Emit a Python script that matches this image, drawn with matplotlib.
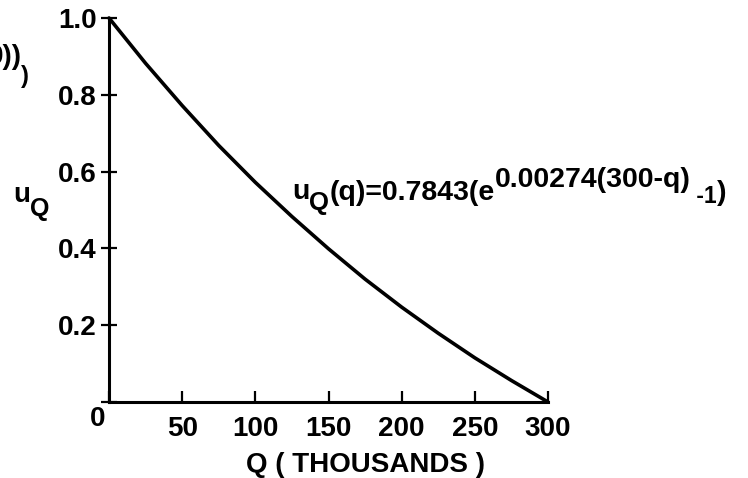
import matplotlib
matplotlib.use("Agg")
import matplotlib.pyplot as plt

# values
q_vals = [0, 25, 50, 75, 100, 125, 150, 175, 200, 225, 250, 275, 300]
u_vals = [1.0, 0.882, 0.772, 0.668, 0.572, 0.483, 0.399, 0.320, 0.247, 0.179, 0.115, 0.056, 0.0]
x_ticks = [0, 50, 100, 150, 200, 250, 300]
x_ticklabels = ["", "50", "100", "150", "200", "250", "300"]
y_ticks = [0, 0.2, 0.4, 0.6, 0.8, 1.0]
y_ticklabels = ["", "0.2", "0.4", "0.6", "0.8", "1.0"]

FONT = ['Liberation Sans Narrow', 'Liberation Sans', 'DejaVu Sans']
plt.rcParams['font.family'] = FONT
plt.rcParams['font.weight'] = 'bold'

W, H = 748, 478
fig = plt.figure(figsize=(W / 100, H / 100), dpi=100)
x0, x1, y0, y1 = 109, 548, 402, 18
ax = fig.add_axes([x0 / W, 1 - y0 / H, (x1 - x0) / W, (y0 - y1) / H])
ax.plot(q_vals, u_vals, color='black', lw=2.6, solid_capstyle='round', clip_on=False)
ax.set_xlim(0, 300)
ax.set_ylim(0, 1.0)
for s in ['top', 'right']:
    ax.spines[s].set_visible(False)
for s in ['left', 'bottom']:
    ax.spines[s].set_linewidth(2.2)
ax.set_xticks(x_ticks)
ax.set_xticklabels(x_ticklabels)
ax.set_yticks(y_ticks)
ax.set_yticklabels(y_ticklabels)
ax.tick_params(axis='y', direction='inout', length=12, width=1.6, labelsize=20, pad=3)
ax.tick_params(axis='x', direction='in', length=8, width=1.6, labelsize=20, pad=10)
for lab in ax.get_xticklabels() + ax.get_yticklabels():
    lab.set_fontweight('bold')


def px(x, y):
    return x / W, 1 - y / H


fig.text(*px(98, 426), "0", fontsize=20, ha='center', va='baseline', fontweight='bold')
fig.text(*px(365, 472), "Q ( THOUSANDS )", fontsize=20, ha='center', va='baseline',
         fontweight='bold')

fig.canvas.draw()
renderer = fig.canvas.get_renderer()


def chain(x_start, pieces):
    x = x_start
    for txt, size, base in pieces:
        t = fig.text(*px(x, base), txt, fontsize=size, ha='left', va='baseline',
                     fontweight='bold')
        bb = t.get_window_extent(renderer)
        x = bb.x1


# y-axis label u_Q
chain(13, [("u", 20, 202), ("Q", 18, 216)])

# formula
chain(292, [("u", 20.5, 199), ("Q", 18.5, 210), ("(q)=0.7843(e", 20.5, 200),
            ("0.00274(300-q)", 20.5, 187), (" -1", 16.5, 203), (")", 20.5, 200)])

# cut-off fragment at the top-left edge
fig.text(*px(22, 64), "0))", fontsize=20, ha='right', va='baseline', fontweight='bold')
fig.text(*px(21, 83), ")", fontsize=17, ha='left', va='baseline', fontweight='bold')

fig.savefig("out.png", dpi=100)
